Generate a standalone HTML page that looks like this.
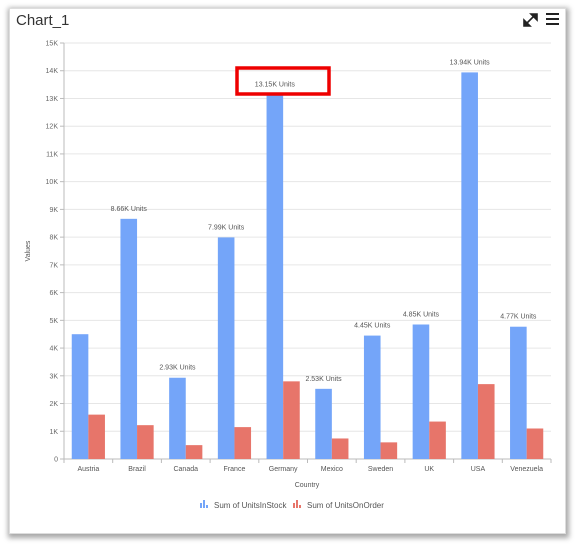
<!DOCTYPE html>
<html><head><meta charset="utf-8"><style>
body{margin:0;background:#fff;font-family:"Liberation Sans",sans-serif;}
#card{position:absolute;left:9px;top:8px;width:555px;height:524px;background:#fff;box-shadow:1px 2px 5px 2px rgba(0,0,0,0.35);border:1px solid #ddd;}
</style></head><body>
<div id="card"></div>
<svg width="577" height="549" style="position:absolute;left:0;top:0">
<text x="16" y="25" font-size="15" fill="#333">Chart_1</text>
<g stroke="#222" stroke-width="1.6" fill="#222">
<line x1="526" y1="24" x2="535" y2="15"/><path d="M531 14 L537 14 L537 20 Z"/><path d="M524 20 L524 26 L530 26 Z"/></g>
<g fill="#222"><rect x="546" y="13" width="13" height="2"/><rect x="546" y="18" width="13" height="2"/><rect x="546" y="23" width="13" height="2"/></g>
<g id="grid"></g><g id="bars"></g><g id="labels"></g>
<text x="30" y="251" font-size="7" fill="#555" text-anchor="middle" transform="rotate(-90 30 251)">Values</text>
<text x="307" y="487" font-size="7" fill="#555" text-anchor="middle">Country</text>
<g><rect x="200" y="503" width="2" height="5" fill="#74a5f9"/><rect x="203" y="500" width="2" height="8" fill="#74a5f9"/><rect x="206" y="505" width="2" height="3" fill="#74a5f9"/><text x="214" y="508" font-size="8" fill="#555">Sum of UnitsInStock</text></g>
<g><rect x="293" y="503" width="2" height="5" fill="#e7756a"/><rect x="296" y="500" width="2" height="8" fill="#e7756a"/><rect x="299" y="505" width="2" height="3" fill="#e7756a"/><text x="307" y="508" font-size="8" fill="#555">Sum of UnitsOnOrder</text></g>
<rect x="237" y="68" width="92" height="26" fill="none" stroke="#e00" stroke-width="3.5"/>
</svg>
<script>
const categories=["Austria","Brazil","Canada","France","Germany","Mexico","Sweden","UK","USA","Venezuela"];
const stockValues=[4500,8660,2930,7990,13150,2530,4450,4850,13940,4770];
const orderValues=[1600,1220,500,1150,2800,740,600,1350,2700,1100];
const valueLabels=[null,"8.66K Units","2.93K Units","7.99K Units","13.15K Units","2.53K Units","4.45K Units","4.85K Units","13.94K Units","4.77K Units"];
const yTicks=[0,1000,2000,3000,4000,5000,6000,7000,8000,9000,10000,11000,12000,13000,14000,15000];
const yTickLabels=["0","1K","2K","3K","4K","5K","6K","7K","8K","9K","10K","11K","12K","13K","14K","15K"];
const NS="http://www.w3.org/2000/svg";
const X0=64,X1=551,Y0=459,YT=43,YMAX=15000;
const y=v=>Y0-(v/YMAX)*(Y0-YT);
const cw=(X1-X0)/categories.length;
const cx=i=>X0+cw*(i+0.5);
function mk(tag,attrs,parent,txt){const e=document.createElementNS(NS,tag);for(const k in attrs)e.setAttribute(k,attrs[k]);if(txt!=null)e.textContent=txt;document.getElementById(parent).appendChild(e);return e;}
yTicks.forEach((t,i)=>{
 const g=mk('line',{x1:X0,x2:X1,y1:y(t),y2:y(t),stroke:i===0?'#bbb':'#e6e6e6','stroke-width':1},'grid');
 
 mk('line',{x1:X0-4,x2:X0,y1:y(t),y2:y(t),stroke:'#bbb'},'grid');
 const l=mk('text',{x:X0-6,y:y(t)+2.5,'font-size':7,fill:'#666','text-anchor':'end'},'grid',yTickLabels[i]);
 
});
mk('line',{x1:X0,x2:X0,y1:YT,y2:Y0,stroke:'#bbb'},'grid');
const bw=16.6;
categories.forEach((c,i)=>{
 mk('line',{x1:X0+cw*i,x2:X0+cw*i,y1:Y0,y2:Y0+4,stroke:'#bbb'},'grid');
 const b=mk('rect',{x:cx(i)-bw,y:y(stockValues[i]),width:bw,height:Y0-y(stockValues[i]),fill:'#74a5f9'},'bars');
 
 const r=mk('rect',{x:cx(i),y:y(orderValues[i]),width:bw,height:Y0-y(orderValues[i]),fill:'#e7756a'},'bars');
 
 const t=mk('text',{x:cx(i),y:471,'font-size':7,fill:'#555','text-anchor':'middle'},'labels',c);
 
 if(valueLabels[i]){
  const v=mk('text',{x:cx(i)-bw/2,y:y(stockValues[i])-8,'font-size':7,fill:'#555','text-anchor':'middle'},'labels',valueLabels[i]);
  
 }
});
mk('line',{x1:X1,x2:X1,y1:Y0,y2:Y0+4,stroke:'#bbb'},'grid');
</script>
</body></html>
